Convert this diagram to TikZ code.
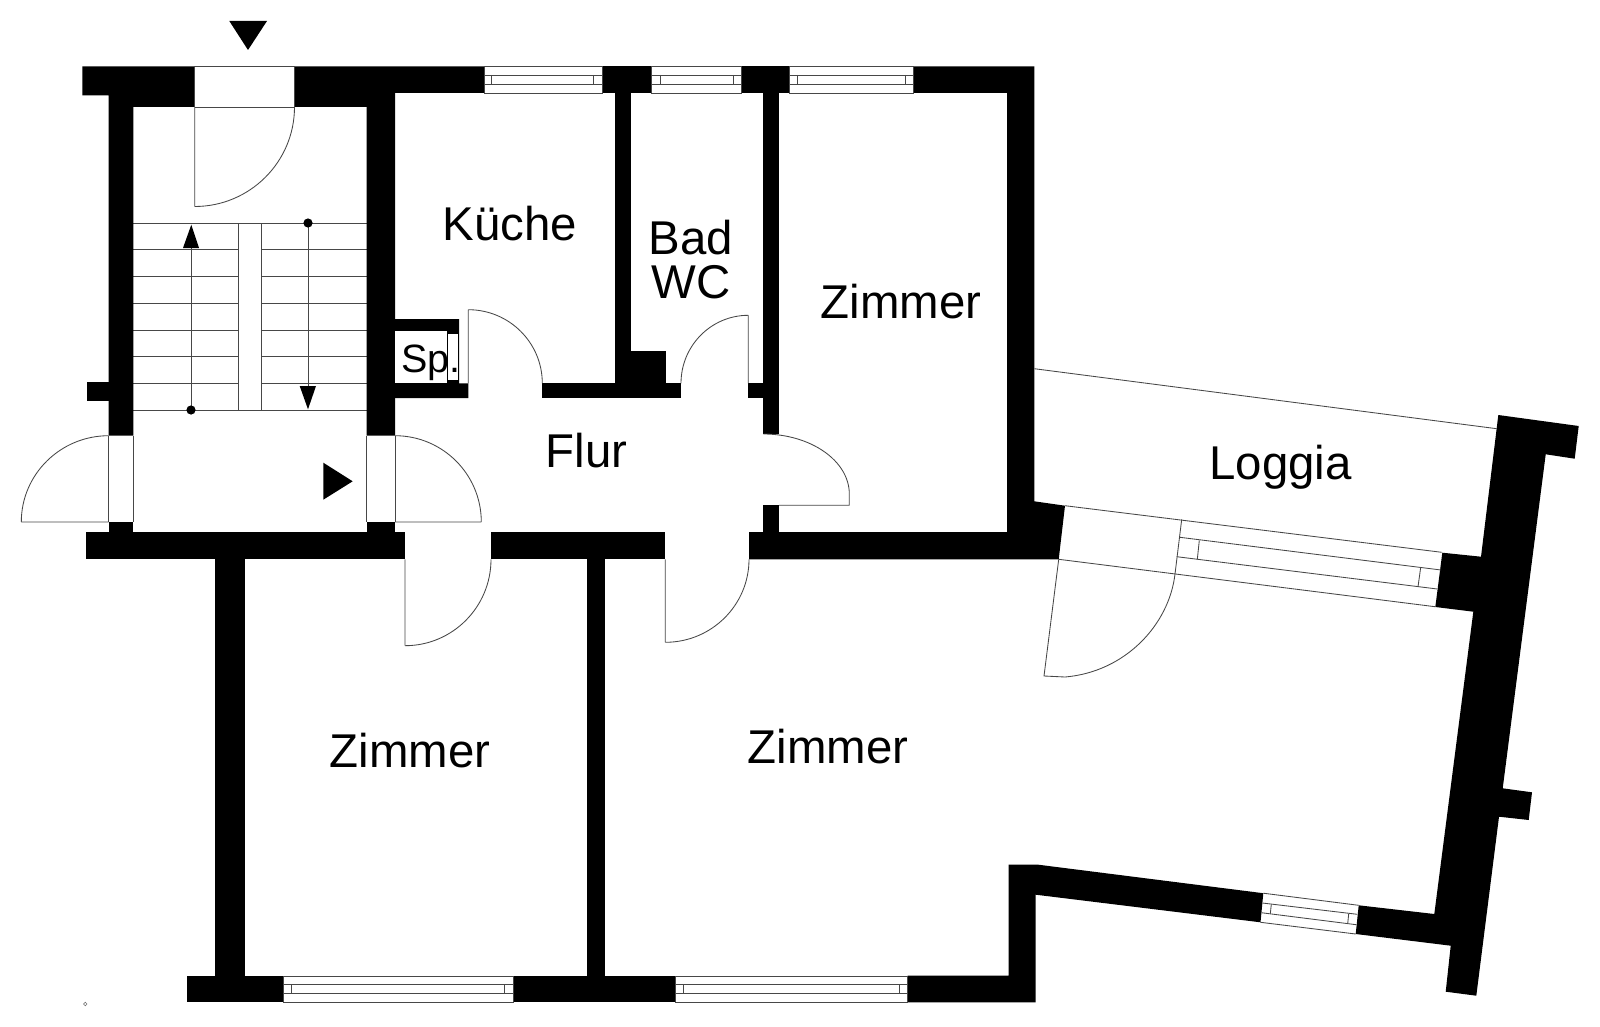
\documentclass[tikz,border=0pt]{standalone}
\usepackage{fontspec}
\setmainfont{Liberation Sans}
\usetikzlibrary{calc}
\tikzset{
  wall/.style={fill=black,draw=none},
  thin line/.style={draw=black!72,line width=0.85pt},
  lab/.style={inner sep=0pt,anchor=base,text=black,font=\fontsize{47.4}{50}\selectfont},
  smalllab/.style={inner sep=0pt,anchor=base west,text=black,font=\fontsize{39.5}{44}\selectfont}
}
% quarter ellipse: starts horizontally at (#1,#2), ends vertically at (#3,#4)
\newcommand\qarc[4]{(#1,#2) .. controls ($(#1,#2)!0.5523!(#3,#2)$) and ($(#3,#4)!0.5523!(#3,#2)$) .. (#3,#4)}
% horizontal window: x1 x2 mullion1 mullion2 ytop ybot y1 y2
\newcommand\hwin[8]{%
  \draw[thin line] (#1,#5) rectangle (#2,#6);
  \draw[thin line] (#1,#7) -- (#2,#7) (#1,#8) -- (#2,#8);
  \draw[thin line] (#3,#7) -- (#3,#8) (#4,#7) -- (#4,#8);
}
\begin{document}
\begin{tikzpicture}[x=1pt,y=-1pt]
\useasboundingbox (0,0) rectangle (1600,1027);
\fill[white] (0,0) rectangle (1600,1027);

% --- thin lines: stairs
\foreach \yy in {249.7,276.7,303.6,330.5,356.8,383.3} {
  \draw[thin line] (133.3,\yy) -- (238.4,\yy) (261.4,\yy) -- (366.7,\yy);
}
\draw[thin line] (133.3,223) -- (366.7,223) (133.3,410) -- (366.7,410);
\draw[thin line] (238.4,223) -- (238.4,410) (261.4,223) -- (261.4,410);
\draw[thin line] (191.3,410) -- (191.3,240);
\draw[thin line] (308,223) -- (308,395);
\fill (183,248) -- (199,248) -- (191.3,224.7) -- cycle;
\fill (299.7,386) -- (316,386) -- (308,409.3) -- cycle;
\fill (191,410) circle[radius=4.6];
\fill (308,223) circle[radius=4.6];
% markers
\fill (229.3,21) -- (267,21) -- (248,50) -- cycle;
\fill (323.3,462.7) -- (323.3,499.7) -- (352.7,481.3) -- cycle;

% --- walls
\fill[wall] (82.3,66.5) -- (194.7,66.5) -- (194.7,107) -- (133.3,107) -- (133.3,435.7) -- (108.7,435.7) -- (108.7,95.5) -- (82.3,95.5) -- cycle;
\fill[wall] (294.5,66.5) -- (484.1,66.5) -- (484.1,93) -- (395,93) -- (395,435.7) -- (366.7,435.7) -- (366.7,107) -- (294.5,107) -- cycle;
\fill[wall] (602,66.5) rectangle (651.7,93);
\fill[wall] (741.2,66.5) rectangle (789.8,93);
\fill[wall] (913.7,66.5) -- (1034.3,66.5) -- (1034.3,501.3) -- (1065,505.7) -- (1058.7,559.3) -- (749,559.3) -- (749,532) -- (1007,532) -- (1007,93) -- (913.7,93) -- cycle;
\fill[wall] (86.7,382.3) rectangle (108.7,400.7);
\fill[wall] (108.7,522) rectangle (133.3,532);
\fill[wall] (366.7,522) rectangle (395,532);
\fill[wall] (86,532) rectangle (405,559.3);
\fill[wall] (491,532) rectangle (665.3,559.3);
\fill[wall] (215.3,559) rectangle (245.3,976.5);
\fill[wall] (586.7,559) rectangle (605,976.5);
% Spind block
\fill[wall] (395,319) -- (459,319) -- (459,383.3) -- (468.3,383.3) -- (468.3,398) -- (395,398) -- cycle;
\fill[white] (395,331) rectangle (447,383.3);
\fill[white] (448,334) rectangle (458,380);
% inner partitions
\fill[wall] (614.7,93) rectangle (631,383.5);
\fill[wall] (631,351.3) rectangle (666,383.5);
\fill[wall] (542.3,383.3) rectangle (681,398);
\fill[wall] (748.3,383.3) rectangle (764,398);
\fill[wall] (763.3,93) rectangle (779,434);
\fill[wall] (763.3,505.3) rectangle (779,532.5);
% bottom walls
\fill[wall] (186.7,976) rectangle (283.9,1002.3);
\fill[wall] (513.1,976) rectangle (675,1002.3);
\fill[wall] (907.7,975.7) -- (1008.7,975.7) -- (1008.7,864.7) -- (1038.3,864.7) -- (1263.3,893.2) -- (1260.5,922.3) -- (1035.7,894.7) -- (1035.7,1002.3) -- (907.7,1002.3) -- cycle;
% east wall
\fill[wall] (1498.3,415) -- (1578.7,426) -- (1574.7,458.7) -- (1545.7,454.3) -- (1502.7,788.3) -- (1532,792.3) -- (1528.7,820) -- (1499,816.7) -- (1476.3,995.7) -- (1445.7,991.7) -- (1450.7,945.7) -- (1355.7,934) -- (1358.7,905.3) -- (1434.3,914) -- (1473.3,611.7) -- (1435.3,607) -- (1442.3,552.7) -- (1481,556.7) -- cycle;

% --- windows
\hwin{484.1}{602}{491.8}{593.5}{66.5}{93}{75}{84.3}
\hwin{651.7}{741.2}{660.8}{733.5}{66.5}{93}{75}{84.3}
\hwin{789.8}{913.7}{797.8}{905.7}{66.5}{93}{75}{84.3}
\hwin{283.9}{513.1}{291.9}{504.7}{976}{1002.3}{984.3}{993}
\hwin{675}{907.7}{683}{899.3}{976}{1002.3}{984.3}{993}
% slanted south window
\draw[thin line] (1263.3,893.2) -- (1358.7,905.3) (1260.5,922.3) -- (1355.7,934);
\draw[thin line] (1262.3,903) -- (1357.3,914.3) (1261.3,912.7) -- (1356.3,924.7);
\draw[thin line] (1271.3,904.3) -- (1270.3,913.7) (1348.7,913.7) -- (1347.7,923.7);

% --- openings: jambs
\draw[thin line] (194.7,66.5) -- (294.5,66.5) (194.7,66.5) -- (194.7,107) (294.5,66.5) -- (294.5,107) (194.7,107) -- (294.5,107);
\draw[thin line] (108.7,435.7) -- (108.7,522) (133.3,435.7) -- (133.3,522);
\draw[thin line] (366.7,435.7) -- (366.7,522) (395,435.7) -- (395,522);

% --- door leaves
\draw[thin line] (194.7,107) -- (194.7,206.5) \qarc{194.7}{206.5}{294.5}{107};
\draw[thin line] (108.7,522) -- (21.3,522) \qarc{108.7}{435.7}{21.3}{522};
\draw[thin line] (395,522) -- (481.3,522) \qarc{395}{435.7}{481.3}{522};
\draw[thin line] (468.3,383.3) -- (468.3,309.7) \qarc{468.3}{309.7}{542.3}{383.3};
\draw[thin line] (748.3,383.3) -- (748.3,315.3) \qarc{748.3}{315.3}{681}{383.3};
\draw[thin line] \qarc{763.3}{434}{849.3}{494} -- (849.3,505.3) -- (779,505.3);
\draw[thin line] (405,559.3) -- (405,645.7) \qarc{405}{645.7}{491}{559.3};
\draw[thin line] (665.3,559.3) -- (665.3,642.3) \qarc{665.3}{642.3}{749}{559.3};

% --- loggia
\draw[thin line] (1034.3,368.7) -- (1496.7,428.7);
\draw[thin line] (1065,505.7) -- (1441.7,552.3);
\draw[thin line] (1058.7,559.3) -- (1435,606.7);
\draw[thin line] (1058.7,559.3) -- (1044,676) -- (1065,677) .. controls (1125,672) and (1169,625) .. (1175,574) -- (1181.7,519.3);
\draw[thin line] (1180,537.3) -- (1441,570) (1176.7,556.7) -- (1437.3,589);
\draw[thin line] (1199.3,540.3) -- (1197.3,559.3) (1420.7,567.3) -- (1418,586.7);

% tiny marker
\draw[black!55,line width=0.6pt] (85.3,1002.2) -- (87,1004) -- (85.3,1005.8) -- (83.6,1004) -- cycle;

% --- labels
\node[lab] (kueche) at (509.6,240) {Küche};
\node[lab] (bad) at (691,254) {Bad};
\node[lab] (wc) at (691,298) {WC};
\node[lab] (z1) at (901,318.5) {Zimmer};
\node[lab] (flur) at (586.7,467.7) {Flur};
\node[lab] (loggia) at (1280.5,479.3) {Loggia};
\node[lab] (z2) at (410,767.8) {Zimmer};
\node[lab] (z3) at (828,763.7) {Zimmer};
\node[smalllab] (sp) at (401,372.5) {Sp.};
\end{tikzpicture}
\end{document}
